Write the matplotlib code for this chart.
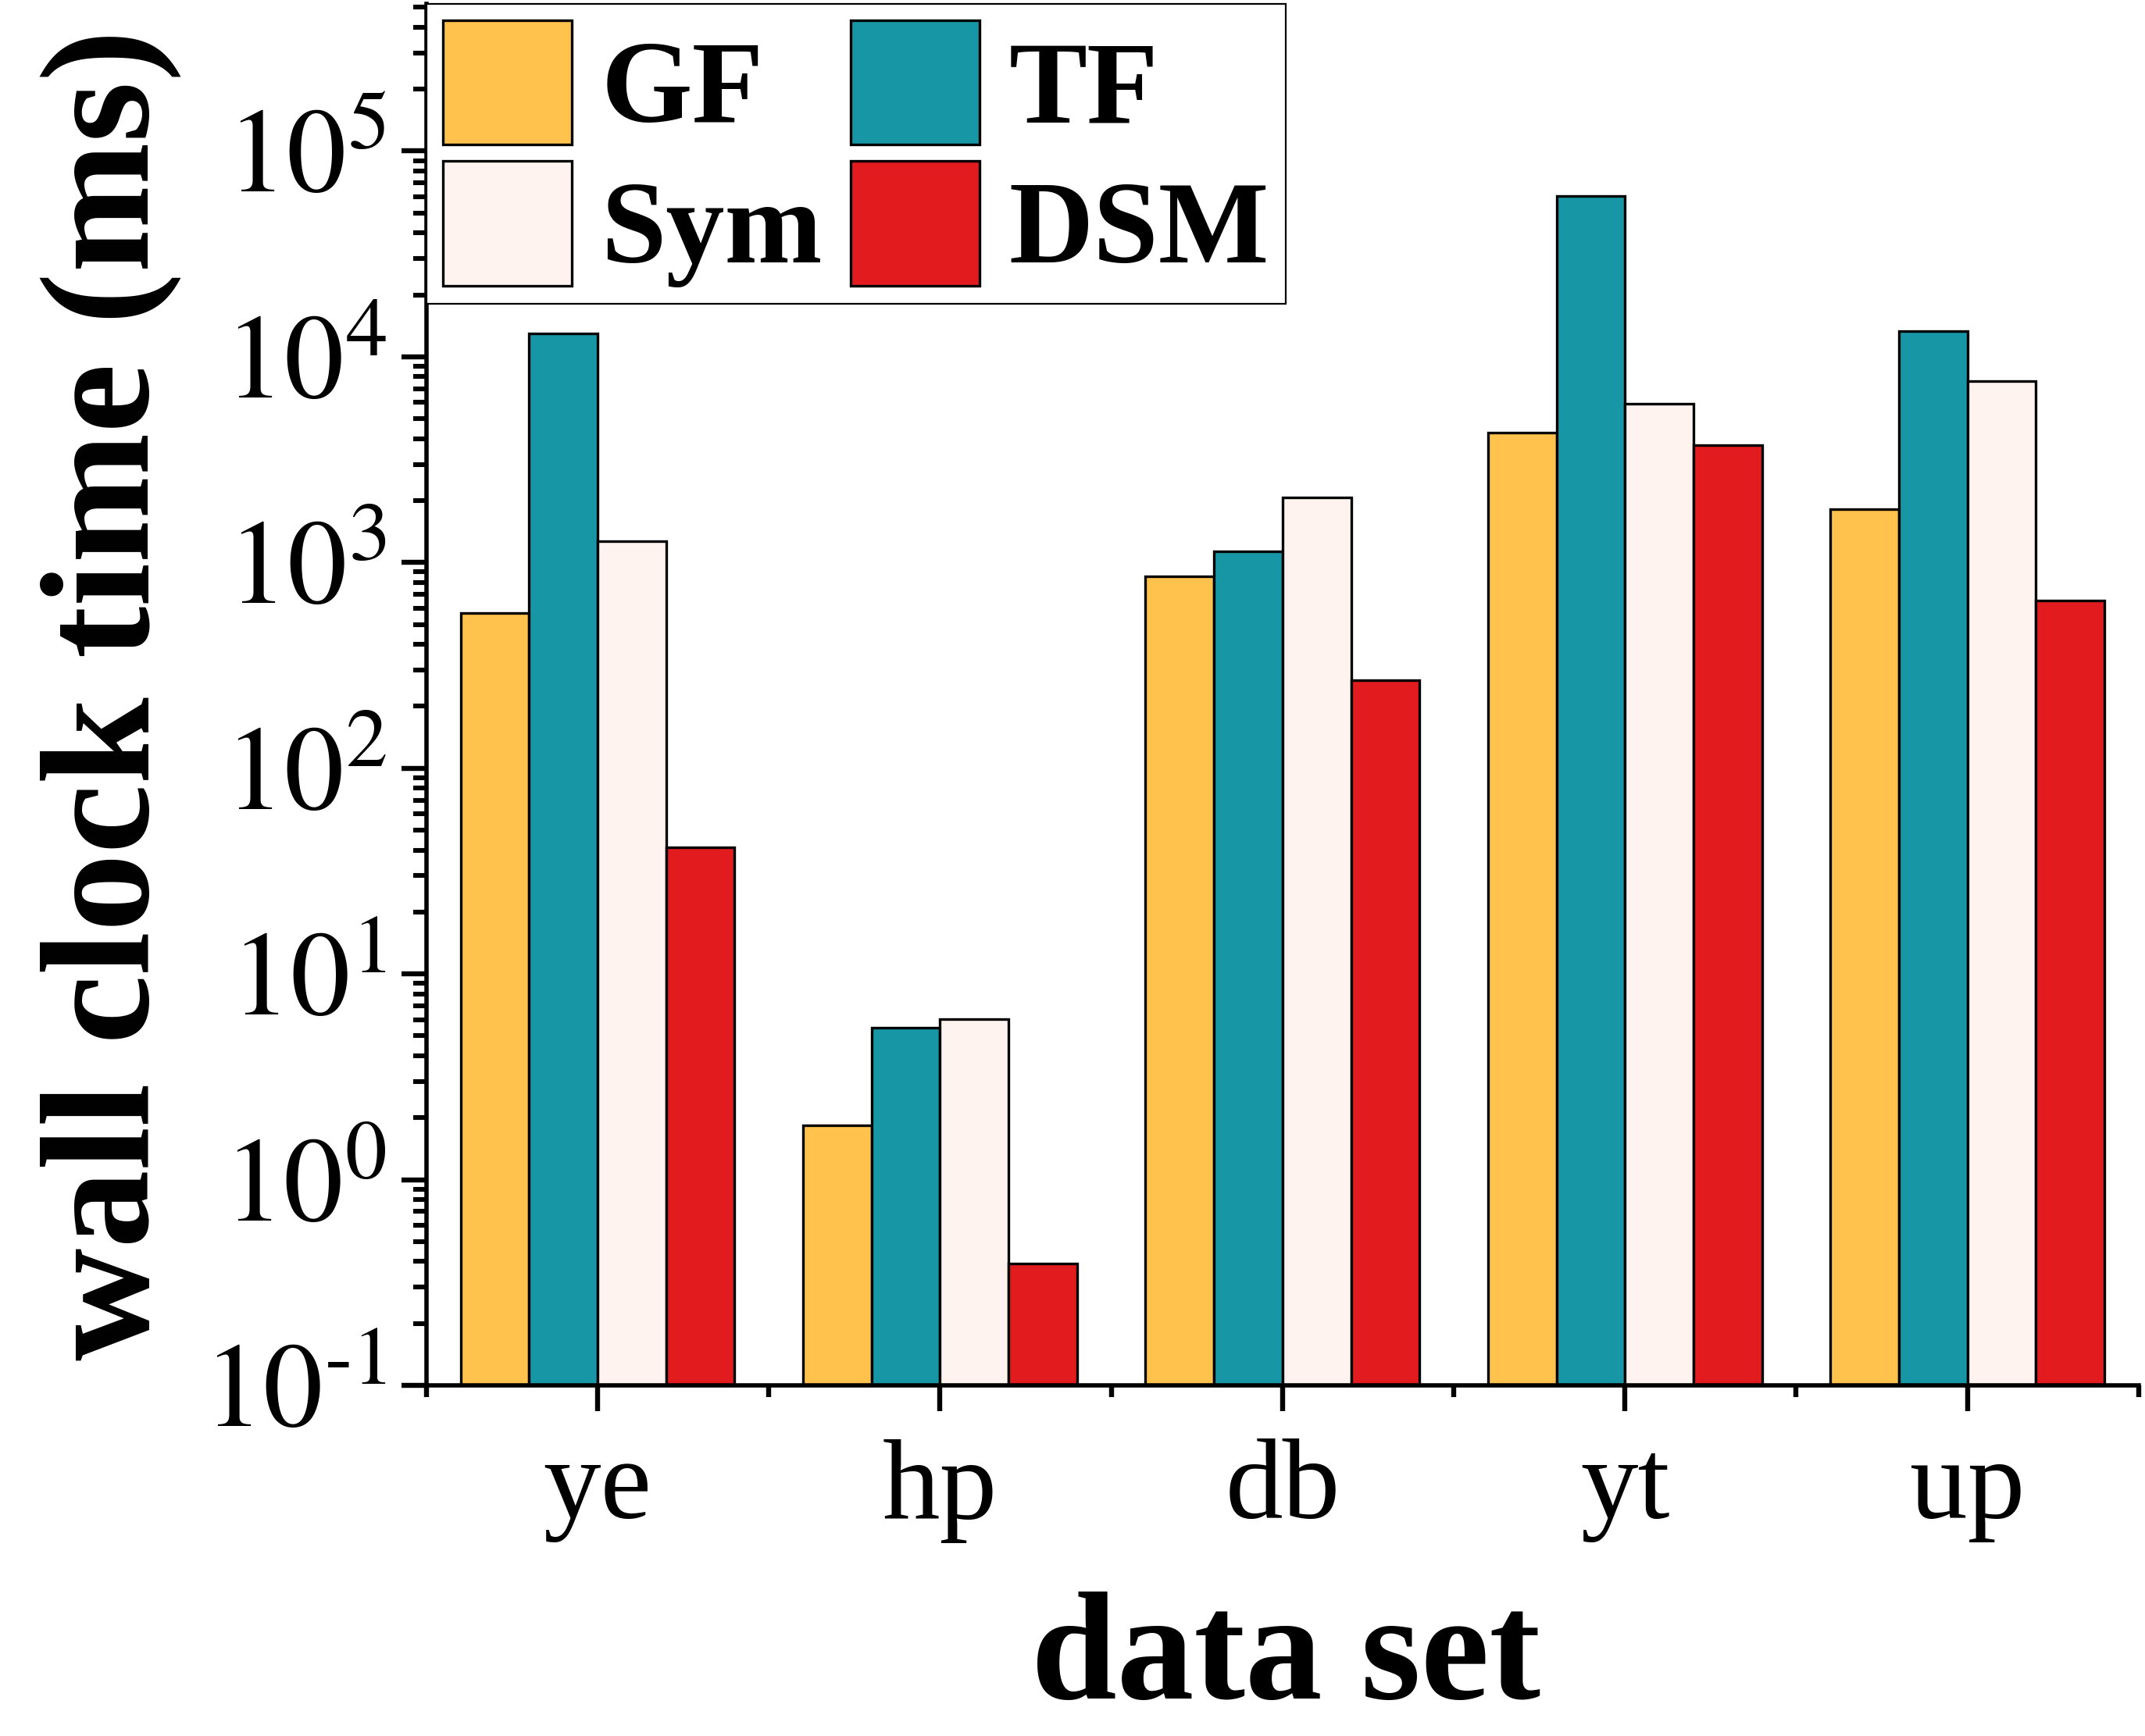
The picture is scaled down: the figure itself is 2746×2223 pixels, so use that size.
import numpy as np
import matplotlib
matplotlib.use("Agg")
import matplotlib.pyplot as plt
from matplotlib.ticker import LogLocator, FixedLocator, FuncFormatter, NullFormatter

plt.rcParams['font.family'] = ['Liberation Serif', 'DejaVu Serif']
plt.rcParams['mathtext.fontset'] = 'stix'

datasets = ['ye', 'hp', 'db', 'yt', 'up']
methods = ['GF', 'TF', 'Sym', 'DSM']

gf = [568, 1.83, 859, 4280, 1816]
tf = [13000, 5.5, 1130, 60400, 13300]
sym = [1270, 6.04, 2080, 5900, 7650]
dsm = [41.3, 0.39, 268, 3730, 651]

colors = ['#FFC34D', '#1797A6', '#FFF3F0', '#E11B1E']

series = [gf, tf, sym, dsm]


def log_label(v, pos):
    e = int(round(np.log10(v)))
    s = str(e).replace('-', '\u2010')
    return r'$10^{%s}$' % s


fig = plt.figure(figsize=(13.73, 11.115), dpi=200)
ax = fig.add_axes([0.1988, 0.202, 0.7982, 0.7958])

x = np.arange(len(datasets))
w = 0.2
bars = []
for i, (vals, name, col) in enumerate(zip(series, methods, colors)):
    b = ax.bar(x + (i - 1.5) * w, vals, w, color=col, edgecolor='black',
               linewidth=1.2, label=name, zorder=2)
    bars.append(b)

ax.set_yscale('log')
ax.set_ylim(0.1, 5.2e5)
ax.set_xlim(-0.5, 4.5)

ax.yaxis.set_major_locator(LogLocator(base=10, numticks=20))
ax.yaxis.set_minor_locator(LogLocator(base=10, subs=np.arange(2, 10), numticks=20))
ax.yaxis.set_major_formatter(FuncFormatter(log_label))
ax.yaxis.set_minor_formatter(NullFormatter())

ax.set_xticks(x)
ax.set_xticklabels(datasets)
ax.xaxis.set_minor_locator(FixedLocator(np.arange(-0.5, 5.0, 1.0)))

for s in ['top', 'right']:
    ax.spines[s].set_visible(False)
for s in ['left', 'bottom']:
    ax.spines[s].set_linewidth(2.0)

ax.tick_params(axis='y', which='major', direction='out', length=11.5, width=2.3,
               labelsize=55, pad=7)
ax.tick_params(axis='y', which='minor', direction='out', length=6, width=2.2)
ax.tick_params(axis='x', which='major', direction='out', length=11.7, width=2.3,
               labelsize=53, pad=13)
ax.tick_params(axis='x', which='minor', direction='out', length=5.5, width=2.3)

ax.set_xlabel('data set', fontsize=71, fontweight='bold', va='baseline')
ax.xaxis.set_label_coords(0.502, -0.2267)
ax.set_ylabel('wall clock time (ms)', fontsize=72, fontweight='bold', va='baseline')
ax.yaxis.set_label_coords(-0.1624, 0.5)

# row-wise legend order: GF TF / Sym DSM
order = [0, 2, 1, 3]
leg = ax.legend([bars[k] for k in order], [methods[k] for k in order],
                loc='upper left', ncol=2, prop={'weight': 'bold', 'size': 54},
                handlelength=1.1, handleheight=1.26, handletextpad=0.25,
                columnspacing=0.24, borderpad=0.14, labelspacing=0.12,
                borderaxespad=0, fancybox=False, framealpha=1, edgecolor='black')
leg.get_frame().set_linewidth(0.8)

fig.savefig('out.png', dpi=200)
